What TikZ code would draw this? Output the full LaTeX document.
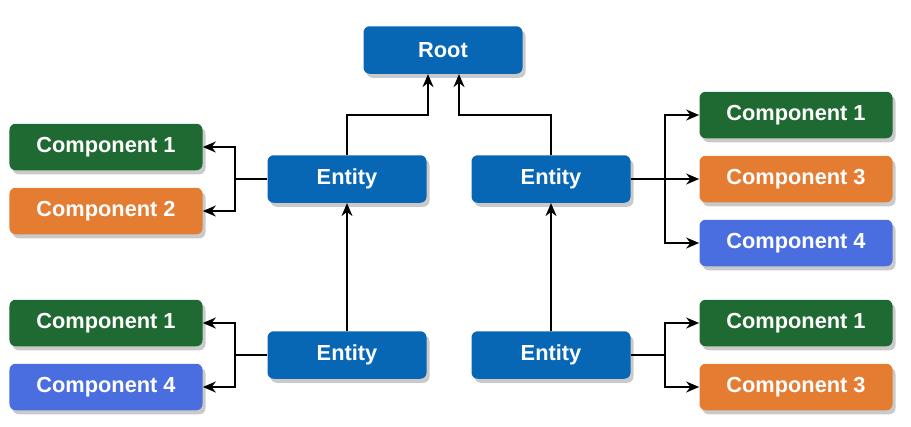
\documentclass[tikz,border=0pt]{standalone}
\usepackage{fontspec}
\setmainfont{Liberation Sans}
\usetikzlibrary{arrows.meta,shadows}
\definecolor{entblue}{HTML}{0767B4}
\definecolor{cgreen}{HTML}{1F6A32}
\definecolor{corange}{HTML}{E47C32}
\definecolor{croyal}{HTML}{4A6EE0}
\begin{document}
\begin{tikzpicture}[x=0.2mm,y=-0.2mm,
  every node/.style={font=\fontsize{12.4}{14}\selectfont\bfseries,text=white,rounded corners=3.5pt,
    drop shadow={shadow xshift=0.6mm,shadow yshift=-0.8mm,fill=black!35,opacity=0.6}},
  ent/.style={fill=entblue,minimum width=3.18cm,minimum height=0.95cm},
  comp/.style={minimum width=3.86cm,minimum height=0.93cm},
  arr/.style={-{Stealth[length=2.6mm,width=2.2mm]},line width=0.9pt}]
\useasboundingbox (0,0) rectangle (911,426);
\node[ent] (root) at (443,50) {Root};
\node[ent] (e1) at (347,179) {Entity}; \node[ent] (e2) at (551,179) {Entity};
\node[ent] (e3) at (347,355) {Entity}; \node[ent] (e4) at (551,355) {Entity};
% left side
\node[comp,fill=cgreen] (la1) at (106,147) {Component 1};
\node[comp,fill=corange] (la2) at (106,211) {Component 2};
\node[comp,fill=cgreen] (lb1) at (106,323) {Component 1};
\node[comp,fill=croyal] (lb4) at (106,387) {Component 4};
% right side
\node[comp,fill=cgreen] (ra1) at (796,115) {Component 1};
\node[comp,fill=corange] (ra3) at (796,179) {Component 3};
\node[comp,fill=croyal] (ra4) at (796,243) {Component 4};
\node[comp,fill=cgreen] (rb1) at (796,323) {Component 1};
\node[comp,fill=corange] (rb3) at (796,387) {Component 3};
\draw[arr] (e1.north) -- ++(0,-40) -| ([xshift=-3mm]root.south);
\draw[arr] (e2.north) -- ++(0,-40) -| ([xshift=3.2mm]root.south);
\draw[arr] (e3) -- (e1); \draw[arr] (e4) -- (e2);
\draw[arr] (e1.west) -- ++(-32,0) |- (la1.east);
\draw[arr] (e1.west) -- ++(-32,0) |- (la2.east);
\draw[arr] (e3.west) -- ++(-32,0) |- (lb1.east);
\draw[arr] (e3.west) -- ++(-32,0) |- (lb4.east);
\draw[arr] (e2.east) -- ++(34,0) |- (ra1.west);
\draw[arr] (e2.east) -- (ra3.west);
\draw[arr] (e2.east) -- ++(34,0) |- (ra4.west);
\draw[arr] (e4.east) -- ++(34,0) |- (rb1.west);
\draw[arr] (e4.east) -- ++(34,0) |- (rb3.west);
\end{tikzpicture}
\end{document}
